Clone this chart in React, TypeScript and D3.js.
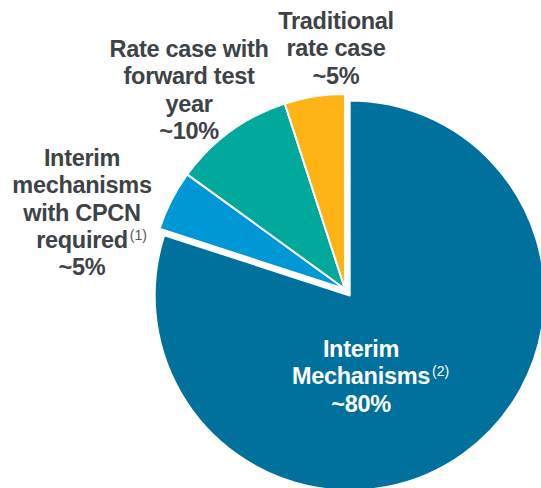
import React from "react";
import * as d3 from "d3";

const categories = [
  "Interim Mechanisms",
  "Interim mechanisms with CPCN required",
  "Rate case with forward test year",
  "Traditional rate case",
];
const values = [80, 5, 10, 5];
const valueLabels = ["~80%", "~5%", "~10%", "~5%"];
const labelLines = [
  ["Interim", "Mechanisms"],
  ["Interim", "mechanisms", "with CPCN", "required"],
  ["Rate case with", "forward test", "year"],
  ["Traditional", "rate case"],
];
const footnotes = ["(2)", "(1)", "", ""];
const footnotesAfterLine = [1, 3, -1, -1];

const palette = ["#00709c", "#0097d6", "#00a99c", "#fdb414"];
const textColors = ["#ffffff", "#3d4346", "#3d4346", "#3d4346"];
const noteColors = ["#ffffff", "#55595c", "#55595c", "#55595c"];

const W = 541;
const H = 488;
const cx = 345;
const cy = 289;
const R = 195;
const explode = [8, 0, 0, 0];
// label anchor (center x, first baseline y)
const labelPos: [number, number][] = [
  [361, 357],
  [82, 166],
  [189, 57],
  [336, 29],
];
const LINE_H = 27.3;
const FONT = 23.5;

function textWidth(s: string, size: number, spacing: number) {
  const canvas = document.createElement("canvas");
  const ctx = canvas.getContext("2d")!;
  ctx.font = `bold ${size}px 'Liberation Sans', Arial, sans-serif`;
  return ctx.measureText(s).width + spacing * s.length;
}

export default function App() {
  const pie = d3
    .pie<number>()
    .sort(null)
    .startAngle(0)
    .endAngle(2 * Math.PI)
    .value((d) => d);
  const arcs = pie(values);
  const arc = d3.arc<d3.PieArcDatum<number>>().innerRadius(0).outerRadius(R);
  const LS = -0.3;

  return (
    <svg
      width={W}
      height={H}
      style={{ position: "absolute", left: 0, top: 0 }}
      fontFamily="'Liberation Sans', Arial, sans-serif"
    >
      <rect width={W} height={H} fill="#ffffff" />
      <g transform={`translate(${cx},${cy})`}>
        {arcs.map((a, i) => {
          const mid = (a.startAngle + a.endAngle) / 2;
          const dx = Math.sin(mid) * explode[i];
          const dy = -Math.cos(mid) * explode[i];
          return (
            <path
              key={i}
              d={arc(a) || ""}
              transform={`translate(${dx},${dy})`}
              fill={palette[i]}
              stroke="#ffffff"
              strokeWidth={2}
              strokeLinejoin="round"
            />
          );
        })}
      </g>
      {categories.map((c, i) => {
        const [x, y] = labelPos[i];
        const lines = [...labelLines[i], valueLabels[i]];
        return (
          <g key={c}>
            {lines.map((ln, j) => (
              <text
                key={j}
                x={x}
                y={y + j * LINE_H}
                letterSpacing={LS}
                fill={textColors[i]}
                fontWeight="bold"
                fontSize={FONT}
                textAnchor="middle"
              >
                {ln}
              </text>
            ))}
            {footnotes[i] ? (
              <text
                x={x + textWidth(lines[footnotesAfterLine[i]], FONT, LS) / 2 + 2}
                y={y + footnotesAfterLine[i] * LINE_H - 8}
                fontSize={14}
                fill={noteColors[i]}
              >
                {footnotes[i]}
              </text>
            ) : null}
          </g>
        );
      })}
    </svg>
  );
}
